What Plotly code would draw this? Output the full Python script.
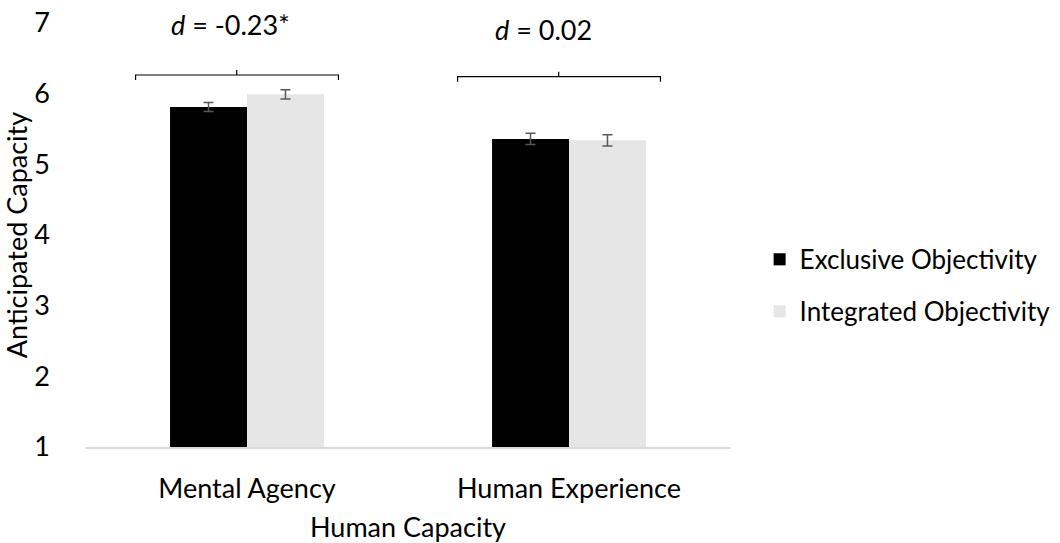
import plotly.graph_objects as go

# Data
categories = ["Mental Agency", "Human Experience"]
series_names = ["Exclusive Objectivity", "Integrated Objectivity"]
exclusive_means = [5.81, 5.36]
integrated_means = [5.99, 5.34]
exclusive_se = [0.064, 0.08]
integrated_se = [0.066, 0.08]
effect_labels = ["<i>d</i> = -0.23*", "<i>d</i> = 0.02"]
y_ticks = [1, 2, 3, 4, 5, 6, 7]

FONT = "Lato"
FS = 27
TEXT = "#000000"
ERR = "#595959"

fig = go.Figure()
fig.add_trace(go.Bar(
    name=series_names[0], x=categories, y=exclusive_means,
    marker=dict(color="#000000", line=dict(width=0)),
    error_y=dict(type="data", array=exclusive_se, color=ERR, thickness=1.5, width=5),
    legendgroup="a",
))
fig.add_trace(go.Bar(
    name=series_names[1], x=categories, y=integrated_means,
    marker=dict(color="#e6e6e6", line=dict(width=0)),
    error_y=dict(type="data", array=integrated_se, color=ERR, thickness=1.5, width=5),
    legendgroup="b",
))

# Comparison brackets above each category group
bracket_y = [6.264, 6.24]
label_y = [6.98, 6.91]
for i, cat in enumerate(categories):
    left, right, mid = i - 0.346, i + 0.284, i - 0.032
    y0 = bracket_y[i]
    line = dict(color="#000000", width=1.2)
    fig.add_shape(type="path",
                  path=f"M {left} {y0 - 0.07} L {left} {y0} L {right} {y0} L {right} {y0 - 0.07}",
                  xref="x", yref="y", line=line)
    fig.add_shape(type="line", x0=mid, x1=mid, y0=y0, y1=y0 + 0.07,
                  xref="x", yref="y", line=line)
    fig.add_annotation(x=i - 0.05 - 0.03 * i, y=label_y[i], text=effect_labels[i],
                       xref="x", yref="y", showarrow=False,
                       font=dict(family=FONT, size=FS, color=TEXT))

fig.update_layout(
    width=1060, height=543,
    margin=dict(l=86, r=330, t=23, b=96, autoexpand=False),
    paper_bgcolor="white", plot_bgcolor="white",
    barmode="group", bargap=0.522, bargroupgap=0,
    font=dict(family=FONT, size=FS, color=TEXT),
    legend=dict(x=1.046, xanchor="left", xref="paper", y=0.381, yanchor="middle",
                font=dict(family=FONT, size=26, color=TEXT),
                tracegroupgap=15, itemwidth=30),
    showlegend=True,
    xaxis=dict(
        title=dict(text="Human Capacity", font=dict(family=FONT, size=FS, color=TEXT), standoff=16),
        showline=True, linecolor="#d9d9d9", linewidth=1.5, automargin=False,
        ticks="", showgrid=False, zeroline=False, ticklabelstandoff=17,
        tickfont=dict(family=FONT, size=FS, color=TEXT),
    ),
    yaxis=dict(
        title=dict(text="Anticipated Capacity", font=dict(family=FONT, size=FS, color=TEXT), standoff=8),
        range=[1, 7], tickvals=y_ticks, showline=False, showgrid=False, zeroline=False,
        ticks="", ticklabelstandoff=35, automargin=False,
        tickfont=dict(family=FONT, size=FS, color=TEXT),
    ),
)

fig.write_html("out.html")
